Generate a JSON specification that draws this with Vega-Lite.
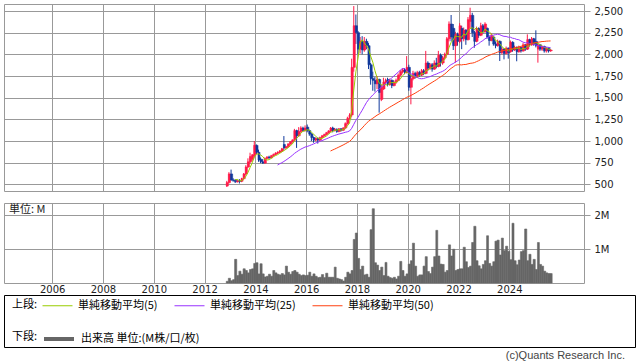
{
"$schema": "https://vega.github.io/schema/vega-lite/v6.json",
"padding": {"left": 3, "top": 3, "right": 0, "bottom": 0},
"background": "white",
"config": {
 "font": "DejaVu Sans",
 "view": {"stroke": "#999999", "strokeWidth": 1},
 "axis": {"gridColor": "#999999", "gridOpacity": 1, "gridWidth": 1, "tickColor": "#999999", "domain": false, "labelFont": "DejaVu Sans", "labelFontSize": 10, "labelColor": "#222222", "title": null, "labelOverlap": false},
 "bar": {"binSpacing": 0}
},
"datasets": {"px": [
{"d":"2012-11-01","o":480,"h":540,"l":470,"c":520,"v":0.05},
{"d":"2012-12-01","o":520,"h":640,"l":510,"c":620,"v":0.14},
{"d":"2013-01-01","o":620,"h":670,"l":540,"c":550,"v":0.07},
{"d":"2013-02-01","o":550,"h":570,"l":530,"c":545,"v":0.10},
{"d":"2013-03-01","o":545,"h":560,"l":515,"c":530,"v":0.70},
{"d":"2013-04-01","o":530,"h":555,"l":520,"c":540,"v":0.22},
{"d":"2013-05-01","o":540,"h":560,"l":510,"c":535,"v":0.35},
{"d":"2013-06-01","o":535,"h":575,"l":525,"c":565,"v":0.26},
{"d":"2013-07-01","o":565,"h":630,"l":555,"c":620,"v":0.42},
{"d":"2013-08-01","o":620,"h":720,"l":610,"c":700,"v":0.37},
{"d":"2013-09-01","o":700,"h":800,"l":690,"c":760,"v":0.30},
{"d":"2013-10-01","o":760,"h":865,"l":740,"c":820,"v":0.40},
{"d":"2013-11-01","o":790,"h":850,"l":770,"c":840,"v":0.42},
{"d":"2013-12-01","o":830,"h":1000,"l":810,"c":950,"v":0.58},
{"d":"2014-01-01","o":950,"h":960,"l":850,"c":870,"v":0.60},
{"d":"2014-02-01","o":870,"h":900,"l":760,"c":780,"v":0.27},
{"d":"2014-03-01","o":790,"h":810,"l":745,"c":760,"v":0.57},
{"d":"2014-04-01","o":760,"h":790,"l":738,"c":745,"v":0.27},
{"d":"2014-05-01","o":745,"h":810,"l":740,"c":800,"v":0.18},
{"d":"2014-06-01","o":800,"h":825,"l":790,"c":815,"v":0.20},
{"d":"2014-07-01","o":815,"h":830,"l":795,"c":805,"v":0.26},
{"d":"2014-08-01","o":805,"h":840,"l":800,"c":830,"v":0.20},
{"d":"2014-09-01","o":830,"h":855,"l":820,"c":845,"v":0.37},
{"d":"2014-10-01","o":845,"h":870,"l":835,"c":860,"v":0.30},
{"d":"2014-11-01","o":860,"h":880,"l":850,"c":870,"v":0.26},
{"d":"2014-12-01","o":870,"h":895,"l":860,"c":885,"v":0.24},
{"d":"2015-01-01","o":885,"h":920,"l":875,"c":910,"v":0.28},
{"d":"2015-02-01","o":960,"h":1057,"l":900,"c":920,"v":0.24},
{"d":"2015-03-01","o":920,"h":945,"l":910,"c":935,"v":0.50},
{"d":"2015-04-01","o":935,"h":975,"l":925,"c":965,"v":0.32},
{"d":"2015-05-01","o":965,"h":1000,"l":955,"c":990,"v":0.26},
{"d":"2015-06-01","o":990,"h":1020,"l":980,"c":1010,"v":0.34},
{"d":"2015-07-01","o":1010,"h":1140,"l":1000,"c":1120,"v":0.37},
{"d":"2015-08-01","o":1120,"h":1130,"l":920,"c":1060,"v":0.32},
{"d":"2015-09-01","o":1060,"h":1160,"l":1050,"c":1110,"v":0.26},
{"d":"2015-10-01","o":1110,"h":1170,"l":1100,"c":1150,"v":0.22},
{"d":"2015-11-01","o":1150,"h":1165,"l":1110,"c":1120,"v":0.24},
{"d":"2015-12-01","o":1120,"h":1180,"l":1110,"c":1150,"v":0.22},
{"d":"2016-01-01","o":1160,"h":1190,"l":1100,"c":1120,"v":0.23},
{"d":"2016-02-01","o":1120,"h":1130,"l":1060,"c":1080,"v":0.32},
{"d":"2016-03-01","o":1080,"h":1090,"l":1000,"c":1040,"v":0.20},
{"d":"2016-04-01","o":1040,"h":1050,"l":980,"c":1010,"v":0.27},
{"d":"2016-05-01","o":1010,"h":1040,"l":1000,"c":1030,"v":0.20},
{"d":"2016-06-01","o":1030,"h":1040,"l":970,"c":1010,"v":0.16},
{"d":"2016-07-01","o":1010,"h":1050,"l":1000,"c":1040,"v":0.17},
{"d":"2016-08-01","o":1040,"h":1070,"l":1030,"c":1060,"v":0.25},
{"d":"2016-09-01","o":1060,"h":1085,"l":1050,"c":1075,"v":0.16},
{"d":"2016-10-01","o":1075,"h":1105,"l":1065,"c":1095,"v":0.29},
{"d":"2016-11-01","o":1095,"h":1125,"l":1085,"c":1115,"v":0.17},
{"d":"2016-12-01","o":1115,"h":1160,"l":1105,"c":1150,"v":0.17},
{"d":"2017-01-01","o":1150,"h":1165,"l":1100,"c":1120,"v":0.17},
{"d":"2017-02-01","o":1120,"h":1150,"l":1110,"c":1135,"v":0.47},
{"d":"2017-03-01","o":1135,"h":1145,"l":1095,"c":1110,"v":0.14},
{"d":"2017-04-01","o":1110,"h":1150,"l":1100,"c":1140,"v":0.12},
{"d":"2017-05-01","o":1140,"h":1150,"l":1110,"c":1125,"v":0.10},
{"d":"2017-06-01","o":1125,"h":1160,"l":1115,"c":1150,"v":0.06},
{"d":"2017-07-01","o":1150,"h":1215,"l":1140,"c":1200,"v":0.17},
{"d":"2017-08-01","o":1200,"h":1280,"l":1190,"c":1260,"v":0.32},
{"d":"2017-09-01","o":1260,"h":1320,"l":1250,"c":1300,"v":0.27},
{"d":"2017-10-01","o":1300,"h":1950,"l":1280,"c":1850,"v":0.37},
{"d":"2017-11-01","o":1850,"h":2557,"l":1800,"c":2330,"v":1.29},
{"d":"2017-12-01","o":2330,"h":2460,"l":2120,"c":2250,"v":1.48},
{"d":"2018-01-01","o":2250,"h":2270,"l":2000,"c":2060,"v":0.73},
{"d":"2018-02-01","o":2060,"h":2200,"l":2010,"c":2150,"v":0.40},
{"d":"2018-03-01","o":2150,"h":2210,"l":2000,"c":2050,"v":0.50},
{"d":"2018-04-01","o":2050,"h":2200,"l":2030,"c":2150,"v":0.24},
{"d":"2018-05-01","o":2150,"h":2180,"l":2060,"c":2100,"v":0.26},
{"d":"2018-06-01","o":2100,"h":2130,"l":1830,"c":1880,"v":0.17},
{"d":"2018-07-01","o":1880,"h":1900,"l":1650,"c":1720,"v":1.58},
{"d":"2018-08-01","o":1720,"h":1800,"l":1580,"c":1700,"v":2.20},
{"d":"2018-09-01","o":1700,"h":1740,"l":1570,"c":1660,"v":0.60},
{"d":"2018-10-01","o":1660,"h":1750,"l":1600,"c":1710,"v":0.53},
{"d":"2018-11-01","o":1710,"h":1720,"l":1327,"c":1560,"v":0.37},
{"d":"2018-12-01","o":1480,"h":1650,"l":1460,"c":1620,"v":0.47},
{"d":"2019-01-01","o":1600,"h":1730,"l":1590,"c":1680,"v":0.22},
{"d":"2019-02-01","o":1680,"h":1720,"l":1650,"c":1700,"v":0.61},
{"d":"2019-03-01","o":1710,"h":1730,"l":1630,"c":1650,"v":0.20},
{"d":"2019-04-01","o":1650,"h":1720,"l":1640,"c":1700,"v":0.16},
{"d":"2019-05-01","o":1700,"h":1710,"l":1610,"c":1640,"v":0.14},
{"d":"2019-06-01","o":1640,"h":1700,"l":1630,"c":1680,"v":0.17},
{"d":"2019-07-01","o":1680,"h":1720,"l":1660,"c":1700,"v":0.12},
{"d":"2019-08-01","o":1700,"h":1780,"l":1690,"c":1760,"v":0.20},
{"d":"2019-09-01","o":1760,"h":1820,"l":1750,"c":1800,"v":0.64},
{"d":"2019-10-01","o":1800,"h":1840,"l":1780,"c":1820,"v":0.37},
{"d":"2019-11-01","o":1820,"h":1840,"l":1770,"c":1790,"v":0.20},
{"d":"2019-12-01","o":1790,"h":1980,"l":1780,"c":1850,"v":0.27},
{"d":"2020-01-01","o":1850,"h":1880,"l":1580,"c":1620,"v":0.56},
{"d":"2020-02-01","o":1620,"h":1760,"l":1423,"c":1720,"v":0.66},
{"d":"2020-03-01","o":1720,"h":1810,"l":1700,"c":1780,"v":1.18},
{"d":"2020-04-01","o":1780,"h":1800,"l":1720,"c":1740,"v":0.50},
{"d":"2020-05-01","o":1740,"h":1810,"l":1730,"c":1790,"v":0.20},
{"d":"2020-06-01","o":1790,"h":1810,"l":1740,"c":1760,"v":0.24},
{"d":"2020-07-01","o":1760,"h":1830,"l":1750,"c":1810,"v":0.24},
{"d":"2020-08-01","o":1810,"h":1830,"l":1760,"c":1780,"v":0.50},
{"d":"2020-09-01","o":1780,"h":2040,"l":1770,"c":1900,"v":0.78},
{"d":"2020-10-01","o":1900,"h":1920,"l":1810,"c":1840,"v":0.34},
{"d":"2020-11-01","o":1840,"h":1900,"l":1820,"c":1880,"v":0.28},
{"d":"2020-12-01","o":1880,"h":1900,"l":1800,"c":1830,"v":0.47},
{"d":"2021-01-01","o":1830,"h":1930,"l":1820,"c":1900,"v":0.78},
{"d":"2021-02-01","o":1900,"h":1960,"l":1840,"c":1860,"v":1.56},
{"d":"2021-03-01","o":1860,"h":2040,"l":1850,"c":1990,"v":0.80},
{"d":"2021-04-01","o":1990,"h":2010,"l":1860,"c":1900,"v":0.56},
{"d":"2021-05-01","o":1900,"h":1980,"l":1880,"c":1960,"v":0.55},
{"d":"2021-06-01","o":1960,"h":2020,"l":1940,"c":2000,"v":0.32},
{"d":"2021-07-01","o":2000,"h":2200,"l":1990,"c":2180,"v":0.37},
{"d":"2021-08-01","o":2180,"h":2380,"l":2150,"c":2350,"v":1.13},
{"d":"2021-09-01","o":2350,"h":2454,"l":2150,"c":2200,"v":0.80},
{"d":"2021-10-01","o":2300,"h":2350,"l":2050,"c":2100,"v":1.00},
{"d":"2021-11-01","o":2100,"h":2260,"l":1904,"c":2230,"v":0.37},
{"d":"2021-12-01","o":2230,"h":2250,"l":2100,"c":2150,"v":0.40},
{"d":"2022-01-01","o":2150,"h":2360,"l":2130,"c":2330,"v":0.42},
{"d":"2022-02-01","o":2300,"h":2330,"l":2060,"c":2180,"v":0.42},
{"d":"2022-03-01","o":2180,"h":2310,"l":2150,"c":2280,"v":1.06},
{"d":"2022-04-01","o":2280,"h":2290,"l":2110,"c":2170,"v":0.63},
{"d":"2022-05-01","o":2170,"h":2430,"l":2160,"c":2400,"v":0.46},
{"d":"2022-06-01","o":2380,"h":2538,"l":2300,"c":2450,"v":0.50},
{"d":"2022-07-01","o":2450,"h":2480,"l":2200,"c":2250,"v":1.20},
{"d":"2022-08-01","o":2250,"h":2270,"l":2077,"c":2150,"v":1.68},
{"d":"2022-09-01","o":2150,"h":2320,"l":2140,"c":2300,"v":0.66},
{"d":"2022-10-01","o":2300,"h":2310,"l":2190,"c":2220,"v":0.51},
{"d":"2022-11-01","o":2220,"h":2365,"l":2210,"c":2330,"v":0.42},
{"d":"2022-12-01","o":2330,"h":2350,"l":2240,"c":2260,"v":0.55},
{"d":"2023-01-01","o":2260,"h":2370,"l":2250,"c":2350,"v":0.66},
{"d":"2023-02-01","o":2300,"h":2310,"l":2180,"c":2200,"v":1.40},
{"d":"2023-03-01","o":2200,"h":2220,"l":2100,"c":2160,"v":0.58},
{"d":"2023-04-01","o":2160,"h":2240,"l":2150,"c":2220,"v":0.50},
{"d":"2023-05-01","o":2200,"h":2210,"l":2100,"c":2120,"v":0.63},
{"d":"2023-06-01","o":2120,"h":2150,"l":2070,"c":2100,"v":1.24},
{"d":"2023-07-01","o":2100,"h":2170,"l":2090,"c":2150,"v":1.27},
{"d":"2023-08-01","o":2150,"h":2160,"l":1923,"c":2020,"v":0.83},
{"d":"2023-09-01","o":2020,"h":2080,"l":2000,"c":2060,"v":1.33},
{"d":"2023-10-01","o":2060,"h":2070,"l":1942,"c":2010,"v":0.96},
{"d":"2023-11-01","o":2010,"h":2090,"l":2000,"c":2070,"v":1.09},
{"d":"2023-12-01","o":2070,"h":2080,"l":1950,"c":2020,"v":0.94},
{"d":"2024-01-01","o":2030,"h":2160,"l":2020,"c":2140,"v":0.69},
{"d":"2024-02-01","o":2140,"h":2150,"l":2030,"c":2050,"v":1.77},
{"d":"2024-03-01","o":2050,"h":2100,"l":2040,"c":2080,"v":0.66},
{"d":"2024-04-01","o":2080,"h":2090,"l":1920,"c":2030,"v":0.54},
{"d":"2024-05-01","o":2030,"h":2100,"l":2020,"c":2080,"v":0.68},
{"d":"2024-06-01","o":2080,"h":2090,"l":2020,"c":2040,"v":0.93},
{"d":"2024-07-01","o":2040,"h":2130,"l":2030,"c":2110,"v":0.96},
{"d":"2024-08-01","o":2110,"h":2120,"l":2040,"c":2060,"v":1.60},
{"d":"2024-09-01","o":2060,"h":2231,"l":2050,"c":2170,"v":0.66},
{"d":"2024-10-01","o":2170,"h":2180,"l":2090,"c":2110,"v":0.85},
{"d":"2024-11-01","o":2110,"h":2200,"l":2100,"c":2180,"v":0.55},
{"d":"2024-12-01","o":2180,"h":2190,"l":2100,"c":2120,"v":0.70},
{"d":"2025-01-01","o":2150,"h":2277,"l":2080,"c":2100,"v":0.40},
{"d":"2025-02-01","o":2060,"h":2130,"l":1904,"c":2110,"v":1.20},
{"d":"2025-03-01","o":2110,"h":2120,"l":2040,"c":2060,"v":0.55},
{"d":"2025-04-01","o":2060,"h":2100,"l":2040,"c":2090,"v":0.50},
{"d":"2025-05-01","o":2090,"h":2100,"l":2020,"c":2040,"v":0.35},
{"d":"2025-06-01","o":2040,"h":2080,"l":2020,"c":2070,"v":0.30},
{"d":"2025-07-01","o":2070,"h":2080,"l":2020,"c":2040,"v":0.28},
{"d":"2025-08-01","o":2040,"h":2060,"l":2030,"c":2050,"v":0.28}
]},
"resolve": {"scale": {"color": "independent", "stroke": "independent"}, "legend": {"color": "independent", "stroke": "independent"}},
"bounds": "flush",
"spacing": 12,
"vconcat": [
 {
  "width": 580, "height": 187,
  "data": {"name": "px"},
  "layer": [
   {"mark": {"type": "rule", "strokeWidth": 1},
    "encoding": {
     "x": {"field": "d", "timeUnit": "utcyearmonth", "type": "temporal", "bandPosition": 0.5,
           "scale": {"type": "utc", "domain": [{"year": 2004, "month": 2, "date": 8, "utc": true}, {"year": 2026, "month": 12, "date": 10, "utc": true}]},
           "axis": {"values": [{"year":2006,"month":1,"date":1,"utc":true},{"year":2008,"month":1,"date":1,"utc":true},{"year":2010,"month":1,"date":1,"utc":true},{"year":2012,"month":1,"date":1,"utc":true},{"year":2014,"month":1,"date":1,"utc":true},{"year":2016,"month":1,"date":1,"utc":true},{"year":2018,"month":1,"date":1,"utc":true},{"year":2020,"month":1,"date":1,"utc":true},{"year":2022,"month":1,"date":1,"utc":true},{"year":2024,"month":1,"date":1,"utc":true}],
                    "grid": true, "labels": false, "ticks": false, "domain": false}},
     "y": {"field": "l", "type": "quantitative",
           "scale": {"domain": [423, 2581], "nice": false, "zero": false},
           "axis": {"orient": "right", "values": [500, 750, 1000, 1250, 1500, 1750, 2000, 2250, 2500], "format": ",d", "tickSize": 6, "labelPadding": 4, "grid": true}},
     "y2": {"field": "h"},
     "color": {"condition": {"test": "datum.c >= datum.o", "value": "#ff1a48"}, "value": "#10399c"}
    }},
   {"mark": {"type": "bar", "binSpacing": 0, "strokeWidth": 0.6},
    "encoding": {
     "x": {"field": "d", "timeUnit": "utcyearmonth", "type": "temporal"},
     "y": {"field": "o", "type": "quantitative",
           "axis": {"orient": "right", "values": [500, 750, 1000, 1250, 1500, 1750, 2000, 2250, 2500], "format": ",d", "tickSize": 6, "labelPadding": 4, "grid": true}},
     "y2": {"field": "c"},
     "color": {"condition": {"test": "datum.c >= datum.o", "value": "#ff1a48"}, "value": "#10399c"},
     "stroke": {"condition": {"test": "datum.c >= datum.o", "value": "#ff1a48"}, "value": "#10399c"}
    }},
   {"transform": [{"window": [{"op": "mean", "field": "c", "as": "ma"}, {"op": "count", "as": "n"}], "frame": [-4, 0], "sort": [{"field": "d"}]}, {"filter": "datum.n >= 5"}],
    "mark": {"type": "line", "stroke": "#99cc00", "strokeWidth": 1},
    "encoding": {
     "x": {"field": "d", "timeUnit": "utcyearmonth", "type": "temporal", "bandPosition": 0.5},
     "y": {"field": "ma", "type": "quantitative",
           "axis": {"orient": "right", "values": [500, 750, 1000, 1250, 1500, 1750, 2000, 2250, 2500], "format": ",d", "tickSize": 6, "labelPadding": 4, "grid": true}}
    }},
   {"transform": [{"window": [{"op": "mean", "field": "c", "as": "ma"}, {"op": "count", "as": "n"}], "frame": [-24, 0], "sort": [{"field": "d"}]}, {"filter": "datum.n >= 25"}],
    "mark": {"type": "line", "stroke": "#9933ff", "strokeWidth": 1},
    "encoding": {
     "x": {"field": "d", "timeUnit": "utcyearmonth", "type": "temporal", "bandPosition": 0.5},
     "y": {"field": "ma", "type": "quantitative",
           "axis": {"orient": "right", "values": [500, 750, 1000, 1250, 1500, 1750, 2000, 2250, 2500], "format": ",d", "tickSize": 6, "labelPadding": 4, "grid": true}}
    }},
   {"transform": [{"window": [{"op": "mean", "field": "c", "as": "ma"}, {"op": "count", "as": "n"}], "frame": [-49, 0], "sort": [{"field": "d"}]}, {"filter": "datum.n >= 50"}],
    "mark": {"type": "line", "stroke": "#ff4010", "strokeWidth": 1},
    "encoding": {
     "x": {"field": "d", "timeUnit": "utcyearmonth", "type": "temporal", "bandPosition": 0.5},
     "y": {"field": "ma", "type": "quantitative",
           "axis": {"orient": "right", "values": [500, 750, 1000, 1250, 1500, 1750, 2000, 2250, 2500], "format": ",d", "tickSize": 6, "labelPadding": 4, "grid": true}}
    }}
  ]
 },
 {
  "width": 580, "height": 80,
  "title": {"text": "単位: M", "anchor": "start", "offset": -12, "dx": 5, "font": "Noto Sans CJK JP", "fontSize": 11, "fontWeight": "normal", "color": "#222222"},
  "data": {"name": "px"},
  "mark": {"type": "bar", "color": "#666666", "stroke": "#666666", "strokeWidth": 0.6, "binSpacing": 0},
  "encoding": {
   "x": {"field": "d", "timeUnit": "utcyearmonth", "type": "temporal",
         "scale": {"type": "utc", "domain": [{"year": 2004, "month": 2, "date": 8, "utc": true}, {"year": 2026, "month": 12, "date": 10, "utc": true}]},
         "axis": {"values": [{"year":2006,"month":1,"date":1,"utc":true},{"year":2008,"month":1,"date":1,"utc":true},{"year":2010,"month":1,"date":1,"utc":true},{"year":2012,"month":1,"date":1,"utc":true},{"year":2014,"month":1,"date":1,"utc":true},{"year":2016,"month":1,"date":1,"utc":true},{"year":2018,"month":1,"date":1,"utc":true},{"year":2020,"month":1,"date":1,"utc":true},{"year":2022,"month":1,"date":1,"utc":true},{"year":2024,"month":1,"date":1,"utc":true}],
                  "format": "%Y", "grid": true, "ticks": false, "tickSize": 0, "labelPadding": 1, "labelFlush": false}},
   "y": {"field": "v", "type": "quantitative",
         "scale": {"domain": [0, 2.37], "nice": false},
         "axis": {"orient": "right", "values": [1, 2], "labelExpr": "datum.value + 'M'", "tickSize": 6, "labelPadding": 4, "grid": true}}
  }
 },
 {
  "width": 631, "height": 52,
  "view": {"stroke": "#000000", "strokeWidth": 1},
  "title": {"text": "(c)Quants Research Inc.", "orient": "bottom", "anchor": "end", "offset": 3, "dx": -10, "font": "Liberation Sans", "fontSize": 11, "fontWeight": "normal", "color": "#444444"},
  "layer": [
   {"data": {"values": []},
    "mark": {"type": "point"},
    "encoding": {
     "stroke": {"field": "s", "type": "nominal",
                "scale": {"domain": ["単純移動平均(5)", "単純移動平均(25)", "単純移動平均(50)"], "range": ["#99cc00", "#9933ff", "#ff4010"]},
                "legend": {"title": "上段:", "orient": "none", "legendX": 8, "legendY": -5, "direction": "horizontal", "padding": 0,
                           "titleOrient": "left", "titleAnchor": "start", "titleBaseline": "line-top", "titleLineHeight": 30, "titleFont": "Noto Sans CJK JP", "titleFontSize": 11, "titleFontWeight": "normal", "titleColor": "#000000", "titlePadding": 4,
                           "labelFont": "Noto Sans CJK JP", "labelFontSize": 11, "labelColor": "#000000", "labelOffset": 5, "labelLimit": 300,
                           "symbolType": "stroke", "symbolSize": 900, "symbolStrokeWidth": 1, "symbolOpacity": 1, "columnPadding": 14}}
    }},
   {"data": {"values": []},
    "mark": {"type": "point"},
    "encoding": {
     "color": {"field": "s", "type": "nominal",
               "scale": {"domain": ["出来高 単位:(M株/口/枚)"], "range": ["#666666"]},
               "legend": {"title": "下段:", "orient": "none", "legendX": 8, "legendY": 27, "direction": "horizontal", "padding": 0,
                          "titleOrient": "left", "titleAnchor": "start", "titleBaseline": "line-top", "titleLineHeight": 30, "titleFont": "Noto Sans CJK JP", "titleFontSize": 11, "titleFontWeight": "normal", "titleColor": "#000000", "titlePadding": 4,
                          "labelFont": "Noto Sans CJK JP", "labelFontSize": 11, "labelColor": "#000000", "labelOffset": 5, "labelLimit": 300,
                          "symbolType": "stroke", "symbolSize": 900, "symbolStrokeWidth": 4, "symbolOpacity": 1}}
    }}
  ]
 }
]
}
